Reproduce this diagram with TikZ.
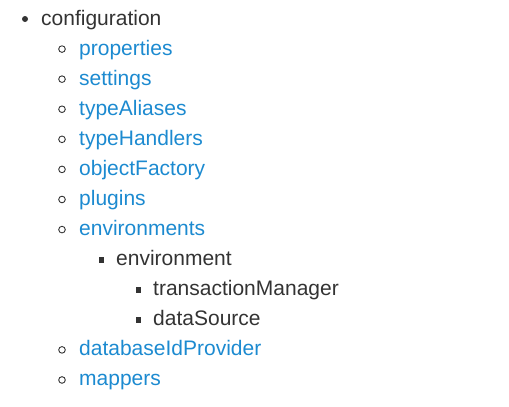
\documentclass[tikz,border=0pt]{standalone}
\usepackage{fontspec}
\setmainfont{Liberation Sans}
\usetikzlibrary{positioning,calc}
\definecolor{linkblue}{HTML}{1C8AD0}
\definecolor{plaintext}{HTML}{333333}

\begin{document}
\begin{tikzpicture}[x=1pt,y=-1pt,
  every node/.append style={anchor=base west,inner sep=0pt,font=\fontsize{21}{24}\selectfont},
  link/.style={text=linkblue},
  plain/.style={text=plaintext}]
\useasboundingbox (0,0) rectangle (509,407);
\node[plain] (config) at (41,25) {configuration};
\fill[plaintext] (25,19) circle (3);
\foreach \n/\t/\r in {prop/properties/1,sett/settings/2,alias/typeAliases/3,handl/typeHandlers/4,
  factory/objectFactory/5,plug/plugins/6,envs/environments/7,dbid/databaseIdProvider/11,mapp/mappers/12}
{
  \node[link] (\n) at (79,25+30.08*\r) {\t};
  \draw[plaintext,line width=0.9pt] ($(\n.base west)+(-17,-6)$) circle (3.3);
}
\node[plain] (env) at (116,25+30.08*8) {environment};
\node[plain] (txm) at (153,25+30.08*9) {transactionManager};
\node[plain] (ds) at (153,25+30.08*10) {dataSource};
\foreach \n in {env,txm,ds}
  \fill[plaintext] ($(\n.base west)+(-17.5,-8.8)$) rectangle +(5.8,5.8);
\end{tikzpicture}
\end{document}
